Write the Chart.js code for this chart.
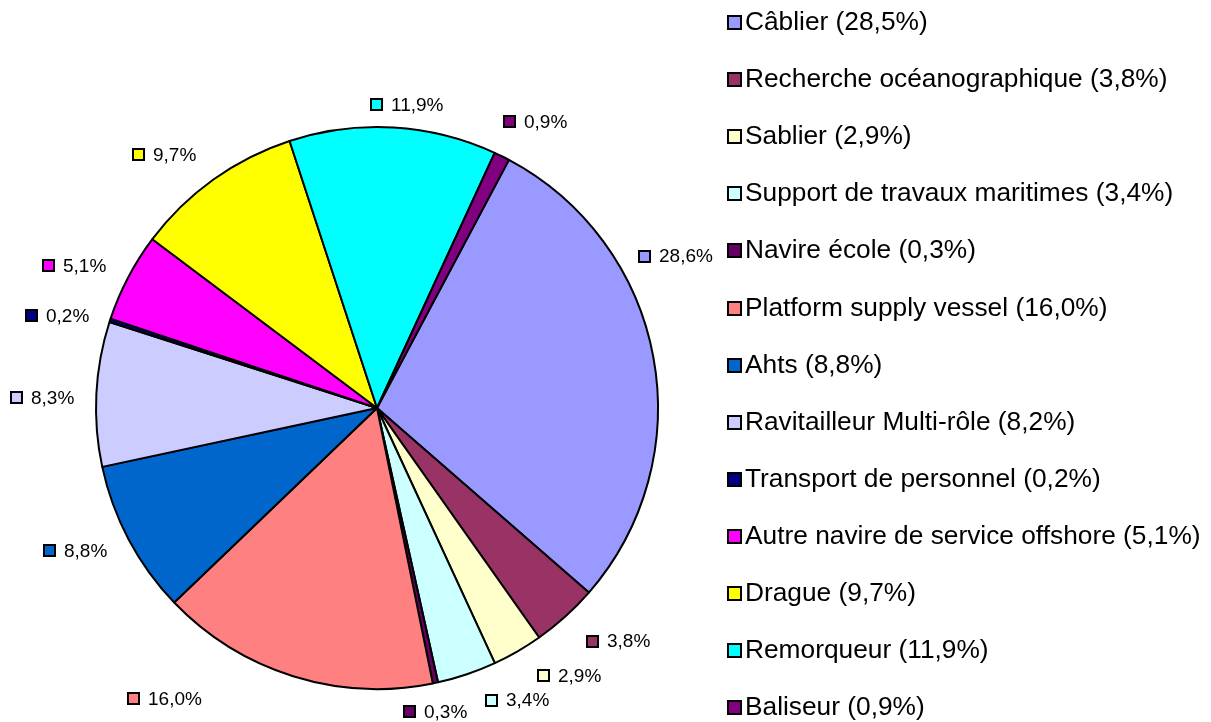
<!DOCTYPE html>
<html>
<head>
<meta charset="utf-8">
<script src="https://cdn.jsdelivr.net/npm/chart.js@4/dist/chart.umd.min.js"></script>
<style>
  html, body { margin: 0; padding: 0; background: #fff; }
  #wrap { width: 1211px; height: 722px; position: relative; }
</style>
</head>
<body>
<div id="wrap"><canvas id="pieChart" width="1211" height="722"></canvas></div>
<script>
const categories = [
  "Câblier", "Recherche océanographique", "Sablier", "Support de travaux maritimes",
  "Navire école", "Platform supply vessel", "Ahts", "Ravitailleur Multi-rôle",
  "Transport de personnel", "Autre navire de service offshore", "Drague",
  "Remorqueur", "Baliseur"
];
// values shown next to the slices
const shares = [28.6, 3.8, 2.9, 3.4, 0.3, 16.0, 8.8, 8.3, 0.2, 5.1, 9.7, 11.9, 0.9];
// values printed in the legend
const legendShares = [28.5, 3.8, 2.9, 3.4, 0.3, 16.0, 8.8, 8.2, 0.2, 5.1, 9.7, 11.9, 0.9];

const colors = [
  "#9999FF", "#993366", "#FFFFCC", "#CCFFFF", "#660066", "#FF8080", "#0066CC",
  "#CCCCFF", "#000080", "#FF00FF", "#FFFF00", "#00FFFF", "#800080"
];
// label placement tweaks (degrees from mid-angle, extra px outward)
const labelShift = [-16.5, -4, -5.7, -7, 1, 18.7, 2.6, -1.1, -2, -2.5, -4.4, 2.3, 2.6];
const labelPush = [2, 3, -3, -9, -24, 27, 0, 2, -1, 1, -2, -28, -6];

const fmt = (v) => v.toFixed(1).replace(".", ",") + "%";
const FONT = "Arial, 'Liberation Sans', sans-serif";

const labelPlugin = {
  id: "excelLabels",
  afterDraw(chart) {
    const ctx = chart.ctx;
    const meta = chart.getDatasetMeta(0);
    ctx.save();
    ctx.font = "19px " + FONT;
    ctx.textBaseline = "middle";
    meta.data.forEach((arc, i) => {
      const p = arc.getProps(["x", "y", "startAngle", "endAngle", "outerRadius"], true);
      const mid = (p.startAngle + p.endAngle) / 2 + labelShift[i] * Math.PI / 180;
      const d = p.outerRadius + 52 + labelPush[i];
      const cx = p.x + Math.cos(mid) * d;
      const cy = p.y + Math.sin(mid) * d;
      const txt = fmt(shares[i]);
      const tw = ctx.measureText(txt).width;
      const box = 11 + 9 + tw;
      const left = Math.round(cx - box / 2);
      const top = Math.round(cy - 5.5);
      ctx.fillStyle = colors[i];
      ctx.fillRect(left, top, 11, 11);
      ctx.lineWidth = 2;
      ctx.strokeStyle = "#000";
      ctx.strokeRect(left, top, 11, 11);
      ctx.fillStyle = "#000";
      ctx.fillText(txt, left + 20, cy + 1);
    });

    // legend
    ctx.font = "26.3px " + FONT;
    categories.forEach((c, i) => {
      const y = Math.round(22 + i * 57.1);
      ctx.fillStyle = colors[i];
      ctx.fillRect(728, y - 6, 13, 13);
      ctx.lineWidth = 2;
      ctx.strokeStyle = "#000";
      ctx.strokeRect(728, y - 6, 13, 13);
      ctx.fillStyle = "#000";
      ctx.fillText(c + " (" + fmt(legendShares[i]) + ")", 745, y + 1);
    });
    ctx.restore();
  }
};

new Chart(document.getElementById("pieChart"), {
  type: "pie",
  data: {
    labels: categories,
    datasets: [{
      data: shares,
      backgroundColor: colors,
      borderColor: "#000",
      borderWidth: 2
    }]
  },
  options: {
    responsive: false,
    animation: false,
    rotation: 28,
    layout: { padding: { left: 95, right: 552, top: 126, bottom: 32 } },
    plugins: { legend: { display: false }, tooltip: { enabled: false } }
  },
  plugins: [labelPlugin]
});
</script>
</body>
</html>
